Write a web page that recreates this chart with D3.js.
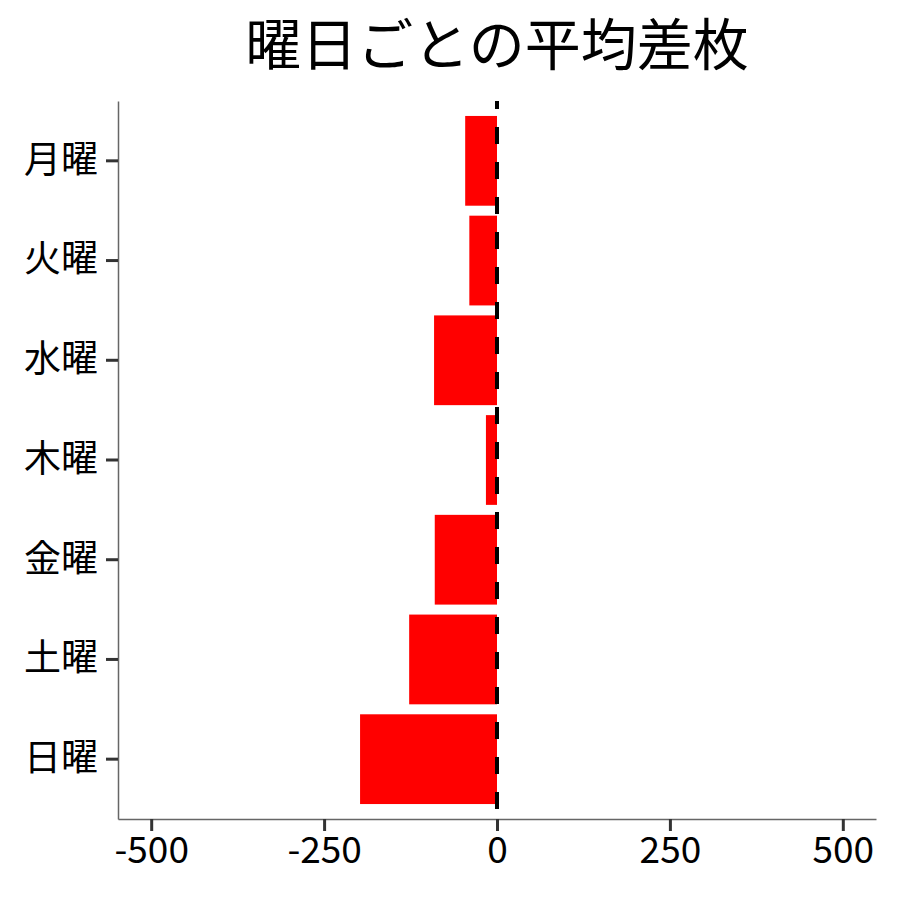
<!DOCTYPE html>
<html>
<head>
<meta charset="utf-8">
<script src="https://cdn.jsdelivr.net/npm/d3@7"></script>
<style>
  body { margin: 0; background: #fff; }
  text { font-family: "Noto Sans CJK JP", "Noto Sans", sans-serif; }
</style>
</head>
<body>
<div id="chart"></div>
<script>
var days = ["月曜", "火曜", "水曜", "木曜", "金曜", "土曜", "日曜"];
var avgDiff = [-46, -40, -91, -16, -90, -127, -198];
var xTicks = [-500, -250, 0, 250, 500];
var title = "曜日ごとの平均差枚";

var width = 900, height = 900;
var margin = { top: 101, right: 24, bottom: 81, left: 118 };

var svg = d3.select("#chart").append("svg")
    .attr("width", width)
    .attr("height", height);

var x = d3.scaleLinear()
    .domain([-548, 548])
    .range([margin.left, width - margin.right]);

var y = d3.scaleBand()
    .domain(days)
    .range([margin.top, height - margin.bottom])
    .paddingInner(0.1)
    .paddingOuter(0.15);

var rows = days.map(function (d, i) { return { day: d, value: avgDiff[i] }; });

svg.append("g")
  .selectAll("rect")
  .data(rows)
  .enter().append("rect")
    .attr("x", function (d) { return x(Math.min(0, d.value)); })
    .attr("y", function (d) { return y(d.day); })
    .attr("width", function (d) { return Math.abs(x(d.value) - x(0)); })
    .attr("height", y.bandwidth())
    .attr("fill", "#ff0000");

// zero line
svg.append("line")
    .attr("x1", x(0)).attr("x2", x(0))
    .attr("y1", margin.top).attr("y2", height - margin.bottom)
    .attr("stroke", "#000")
    .attr("stroke-width", 4)
    .attr("stroke-dasharray", "17,18")
    .attr("stroke-dashoffset", 9);

// x axis
var xAxis = svg.append("g")
    .attr("transform", "translate(0," + (height - margin.bottom) + ")")
    .call(d3.axisBottom(x).tickValues(xTicks).tickSizeInner(12).tickSizeOuter(0).tickPadding(6)
        .tickFormat(function (d) { return String(d); }));
xAxis.select(".domain").attr("stroke", "#666").attr("stroke-width", 1.5);
xAxis.selectAll(".tick line").attr("stroke", "#333").attr("stroke-width", 3);
xAxis.selectAll(".tick text")
    .attr("fill", "#000")
    .style("font-size", "37px")
    .style("font-family", '"Noto Sans CJK JP", sans-serif');

// y axis
var yAxis = svg.append("g")
    .attr("transform", "translate(" + margin.left + ",0)")
    .call(d3.axisLeft(y).tickSizeInner(12).tickSizeOuter(0).tickPadding(8));
yAxis.select(".domain").attr("stroke", "#666").attr("stroke-width", 1.5);
yAxis.selectAll(".tick line").attr("stroke", "#333").attr("stroke-width", 3);
yAxis.selectAll(".tick text")
    .attr("fill", "#000")
    .style("font-size", "37px")
    .style("font-family", '"Noto Sans CJK JP", sans-serif');

// title
svg.append("text")
    .attr("x", (margin.left + width - margin.right) / 2)
    .attr("y", 65)
    .attr("text-anchor", "middle")
    .style("font-size", "56px")
    .text(title);
</script>
</body>
</html>
